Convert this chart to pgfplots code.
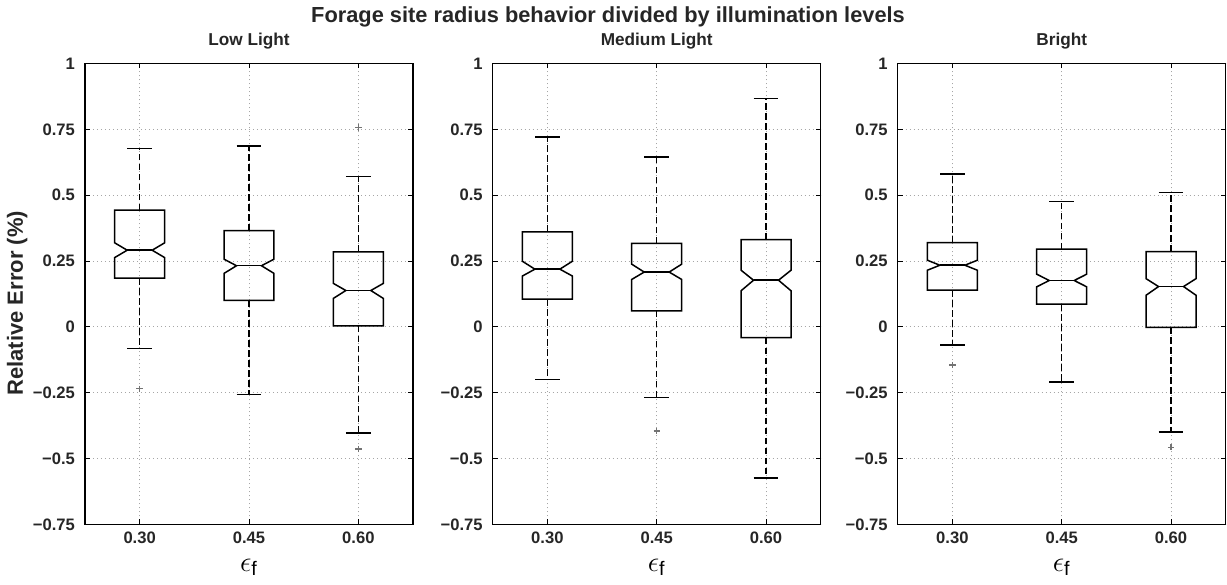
\documentclass[border=0pt]{standalone}
\usepackage{pgfplots}
\pgfplotsset{compat=1.18}
\usepgfplotslibrary{statistics}
\usepackage{fontspec}
\setmainfont{Liberation Sans}

% notch limits as extra boxplot values
\pgfplotsset{
  boxplot/notch lower/.initial=0,
  boxplot/notch upper/.initial=0,
  notched/.style={
    boxplot/draw direction=y,
    boxplot/box extend=0.457,
    boxplot/whisker extend=0.226,
    boxplot/every box/.style={draw=black, line width=0.75bp},
    boxplot/every median/.style={draw=black, line width=0.75bp},
    boxplot/every whisker/.style={draw=black, line width=0.75bp},
    boxplot/draw/box/.code={%
      \draw[/pgfplots/boxplot/every box/.try]
        (boxplot box cs:\pgfplotsboxplotvalue{lower quartile},0) --
        (boxplot box cs:\pgfplotsboxplotvalue{notch lower},0) --
        (boxplot box cs:\pgfplotsboxplotvalue{median},0.25) --
        (boxplot box cs:\pgfplotsboxplotvalue{notch upper},0) --
        (boxplot box cs:\pgfplotsboxplotvalue{upper quartile},0) --
        (boxplot box cs:\pgfplotsboxplotvalue{upper quartile},1) --
        (boxplot box cs:\pgfplotsboxplotvalue{notch upper},1) --
        (boxplot box cs:\pgfplotsboxplotvalue{median},0.75) --
        (boxplot box cs:\pgfplotsboxplotvalue{notch lower},1) --
        (boxplot box cs:\pgfplotsboxplotvalue{lower quartile},1) -- cycle;
    },
    boxplot/draw/median/.code={%
      \draw[/pgfplots/boxplot/every median/.try]
        (boxplot box cs:\pgfplotsboxplotvalue{median},0.25) --
        (boxplot box cs:\pgfplotsboxplotvalue{median},0.75);
    },
    boxplot/draw/lower whisker/.code={%
      \draw[/pgfplots/boxplot/every whisker/.try, dash pattern=on 3.3bp off 1.7bp]
        (boxplot cs:\pgfplotsboxplotvalue{lower quartile}) --
        (boxplot cs:\pgfplotsboxplotvalue{lower whisker});
      \draw[/pgfplots/boxplot/every whisker/.try]
        (boxplot whisker cs:\pgfplotsboxplotvalue{lower whisker},0) --
        (boxplot whisker cs:\pgfplotsboxplotvalue{lower whisker},1);
    },
    boxplot/draw/upper whisker/.code={%
      \draw[/pgfplots/boxplot/every whisker/.try, dash pattern=on 3.3bp off 1.7bp]
        (boxplot cs:\pgfplotsboxplotvalue{upper quartile}) --
        (boxplot cs:\pgfplotsboxplotvalue{upper whisker});
      \draw[/pgfplots/boxplot/every whisker/.try]
        (boxplot whisker cs:\pgfplotsboxplotvalue{upper whisker},0) --
        (boxplot whisker cs:\pgfplotsboxplotvalue{upper whisker},1);
    },
    draw=black, mark=+, mark size=1.6bp,
    mark options={draw=black!55, line width=0.7bp, solid},
  },
  panel/.style={
    scale only axis,
    width=164bp, height=230.5bp,
    anchor=south west,
    xmin=0.5, xmax=3.5, ymin=-0.75, ymax=1,
    xtick={1,2,3}, xticklabels={0.30,0.45,0.60},
    ytick={-0.75,-0.5,-0.25,0,0.25,0.5,0.75,1},
    yticklabels={−0.75,−0.5,−0.25,0,0.25,0.5,0.75,1},
    ticklabel style={font=\bfseries\fontsize{8.3bp}{10bp}\selectfont, text=black!85},
    xticklabel style={anchor=base, yshift=-9.3bp},
    yticklabel style={anchor=east, xshift=-1.5bp},
    grid=major,
    grid style={gray!70, line width=0.4bp, dash pattern=on 0.5bp off 1.5bp},
    tick align=inside, major tick length=2.5bp,
    tick style={black, line width=0.4bp},
    axis line style={line width=0.6bp},
    every axis title/.style={at={(0.5,1)}, anchor=base, yshift=8.8bp,
      font=\bfseries\fontsize{8.6bp}{10bp}\selectfont, text=black!85},
    xlabel={$\epsilon_{\mathrm{f}}$},
    every axis x label/.style={at={(axis description cs:0.5,0)}, anchor=base,
      yshift=-23.5bp, font=\fontsize{14bp}{16bp}\selectfont},
  },
}

\begin{document}
\begin{tikzpicture}
\path (0,0) rectangle (613.5bp,290.5bp);

\node[font=\bfseries\fontsize{10.9bp}{13bp}\selectfont, text=black!85, anchor=base]
  at (304bp,281bp) {Forage site radius behavior divided by illumination levels};

% Low Light
\begin{axis}[panel, at={(42.5bp,30bp)}, title={Low Light},
  ylabel={Relative Error (\%)},
  every axis y label/.style={at={(axis description cs:-0.207,0.48)}, anchor=center,
    rotate=90, font=\bfseries\fontsize{11bp}{13bp}\selectfont, text=black!85}]
\addplot[notched, boxplot prepared={draw position=1, lower whisker=-0.082,
  lower quartile=0.185, median=0.291, upper quartile=0.443, upper whisker=0.677,
  notch lower=0.263, notch upper=0.319}] coordinates {(1,-0.235)};
\addplot[notched, boxplot prepared={draw position=2, lower whisker=-0.257,
  lower quartile=0.101, median=0.232, upper quartile=0.365, upper whisker=0.687,
  notch lower=0.203, notch upper=0.257}] coordinates {};
\addplot[notched, boxplot prepared={draw position=3, lower whisker=-0.402,
  lower quartile=0.004, median=0.138, upper quartile=0.285, upper whisker=0.571,
  notch lower=0.108, notch upper=0.165}] coordinates {(3,0.757) (3,-0.464)};
\end{axis}

% Medium Light
\begin{axis}[panel, at={(246.35bp,30bp)}, title={Medium Light}]
\addplot[notched, boxplot prepared={draw position=1, lower whisker=-0.200,
  lower quartile=0.105, median=0.219, upper quartile=0.361, upper whisker=0.720,
  notch lower=0.193, notch upper=0.249}] coordinates {};
\addplot[notched, boxplot prepared={draw position=2, lower whisker=-0.269,
  lower quartile=0.061, median=0.208, upper quartile=0.317, upper whisker=0.644,
  notch lower=0.180, notch upper=0.238}] coordinates {(2,-0.396)};
\addplot[notched, boxplot prepared={draw position=3, lower whisker=-0.573,
  lower quartile=-0.041, median=0.177, upper quartile=0.331, upper whisker=0.866,
  notch lower=0.137, notch upper=0.215}] coordinates {};
\end{axis}

% Bright
\begin{axis}[panel, at={(448.85bp,30bp)}, title={Bright}]
\addplot[notched, boxplot prepared={draw position=1, lower whisker=-0.069,
  lower quartile=0.139, median=0.234, upper quartile=0.320, upper whisker=0.581,
  notch lower=0.215, notch upper=0.253}] coordinates {(1,-0.145)};
\addplot[notched, boxplot prepared={draw position=2, lower whisker=-0.210,
  lower quartile=0.086, median=0.176, upper quartile=0.295, upper whisker=0.476,
  notch lower=0.152, notch upper=0.200}] coordinates {};
\addplot[notched, boxplot prepared={draw position=3, lower whisker=-0.400,
  lower quartile=-0.002, median=0.153, upper quartile=0.286, upper whisker=0.511,
  notch lower=0.120, notch upper=0.183}] coordinates {(3,-0.457)};
\end{axis}
\end{tikzpicture}
\end{document}
